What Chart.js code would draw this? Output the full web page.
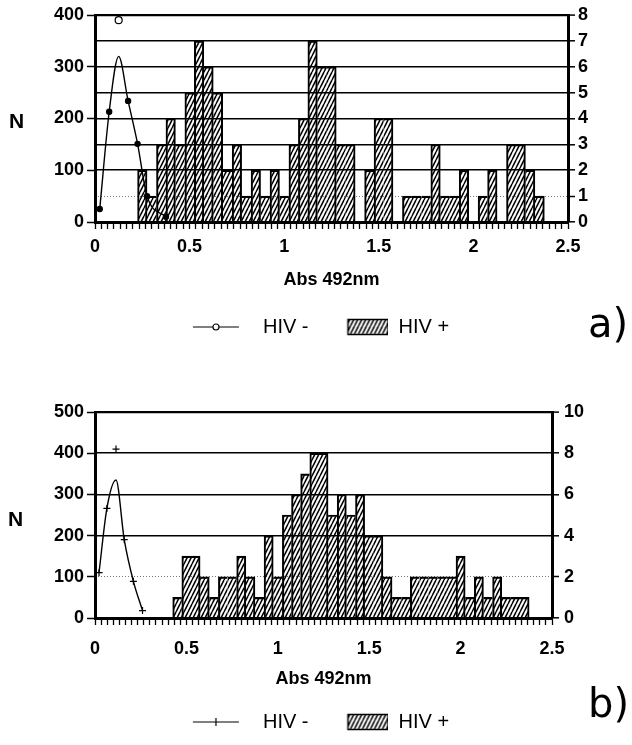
<!DOCTYPE html>
<html><head><meta charset="utf-8">
<script src="https://cdn.jsdelivr.net/npm/chart.js@4"></script>
<style>
html,body{margin:0;padding:0;background:#fff;width:632px;height:745px;overflow:hidden;position:relative;font-family:"Liberation Sans",Arial,sans-serif;}
canvas{position:absolute;left:0;}
#ca{top:0;}
#cb{top:380px;}
.n{position:absolute;font-weight:bold;font-size:21px;color:#000;}
.tag{position:absolute;font-family:"DejaVu Sans",sans-serif;font-size:40px;color:#000;}
</style></head><body>
<canvas id="ca" width="632" height="347"></canvas>
<canvas id="cb" width="632" height="365"></canvas>
<div class="n" style="left:9px;top:109px">N</div>
<div class="n" style="left:8px;top:507px">N</div>
<div class="tag" style="left:588px;top:300px">a)</div>
<div class="tag" style="left:588px;top:680px">b)</div>
<script>
// ---------- Panel a data ----------
const binsA = [0.25,0.30,0.35,0.40,0.45,0.50,0.55,0.60,0.65,0.70,0.75,0.80,0.85,0.90,0.95,1.00,1.05,1.10,1.15,1.20,1.25,1.30,1.35,1.40,1.45,1.50,1.55,1.60,1.65,1.70,1.75,1.80,1.85,1.90,1.95,2.00,2.05,2.10,2.15,2.20,2.25,2.30,2.35];
const hivPosA = [2,1,3,4,3,5,7,6,5,2,3,1,2,1,2,1,3,4,7,6,6,3,3,0,2,4,4,0,1,1,1,3,1,1,2,0,1,2,0,3,3,2,1];
const negXA   = [0.025,0.075,0.125,0.175,0.225,0.275,0.375];
const negObsA = [25,213,390,234,151,50,10];
const negFitA = [25,213,320,234,151,50,10];

// ---------- Panel b data ----------
const binsB = [0.45,0.50,0.55,0.60,0.65,0.70,0.75,0.80,0.85,0.90,0.95,1.00,1.05,1.10,1.15,1.20,1.25,1.30,1.35,1.40,1.45,1.50,1.55,1.60,1.65,1.70,1.75,1.80,1.85,1.90,1.95,2.00,2.05,2.10,2.15,2.20,2.25,2.30,2.35];
const hivPosB = [1,3,3,2,1,2,2,3,2,1,4,2,5,6,7,8,8,5,6,5,6,4,4,2,1,1,2,2,2,2,2,3,1,2,1,2,1,1,1];
const negXB   = [0.022,0.065,0.115,0.16,0.21,0.26];
const negObsB = [110,266,410,190,89,18];
const negFitB = [110,266,335,190,89,18];

const xLabels = ['0','0.5','1','1.5','2','2.5'];
const legendLabels = ['HIV -','HIV +'];
const xTitle = 'Abs 492nm';

const FONT = '"Liberation Sans", Arial, sans-serif';
Chart.defaults.font.family = FONT;
Chart.defaults.color = '#000';

function hatchPattern(ctx){
  const c = document.createElement('canvas'); c.width = 4; c.height = 8;
  const g = c.getContext('2d');
  g.strokeStyle = '#000'; g.lineWidth = 1.5;
  for (const dx of [-4,0,4]) { g.beginPath(); g.moveTo(dx,8); g.lineTo(dx+4,0); g.stroke(); }
  return ctx.createPattern(c,'repeat');
}
function negIcon(kind){
  const c = document.createElement('canvas'); c.width = 70; c.height = 14;
  const g = c.getContext('2d');
  g.strokeStyle = '#000'; g.lineWidth = 1.2;
  g.beginPath(); g.moveTo(10,7); g.lineTo(56,7); g.stroke();
  if (kind === 'circle') { g.beginPath(); g.arc(33,7,3,0,Math.PI*2); g.fillStyle='#fff'; g.fill(); g.stroke(); }
  else { g.beginPath(); g.moveTo(33,3); g.lineTo(33,11); g.stroke(); }
  return c;
}
function posIcon(){
  const c = document.createElement('canvas'); c.width = 70; c.height = 18;
  const g = c.getContext('2d');
  g.fillStyle = hatchPattern(g);
  g.fillRect(29,1,41,16);
  g.strokeStyle = '#000'; g.lineWidth = 1.5; g.strokeRect(29.5,1.5,40,15);
  return c;
}
const pts = (xs, ys) => xs.map((x,i) => ({x, y: ys[i]}));

function makeChart(id, cfg){
  const el = document.getElementById(id);
  const ctx = el.getContext('2d');
  const pattern = hatchPattern(ctx);
  const tickFont = {family: FONT, size: 18, weight: 'bold'};
  const edge = c => {
    const i = c.dataIndex, v = cfg.pos[i];
    const p = i > 0 ? cfg.pos[i-1] : 0, n = i < cfg.pos.length-1 ? cfg.pos[i+1] : 0;
    return { top: v > 0 ? 1.5 : 0, left: p < v ? 1.4 : 0, right: n < v ? 1.4 : 0, bottom: 0 };
  };
  return new Chart(ctx, {
    type: 'bar',
    data: {
      datasets: [
        { type:'line', label: legendLabels[0], data: pts(cfg.negX, cfg.negFit), yAxisID:'y', xAxisID:'x',
          borderColor:'#000', borderWidth:1.4, pointRadius:0, cubicInterpolationMode:'monotone', fill:false },
        { type:'line', label: legendLabels[0]+' obs', data: pts(cfg.negX, cfg.negObs), yAxisID:'y', xAxisID:'x',
          showLine:false, pointStyle: cfg.marker,
          pointRadius: c => cfg.marker==='circle' ? (cfg.negObs[c.dataIndex]!==cfg.negFit[c.dataIndex] ? 3.5 : 2.6) : 3.5,
          pointBackgroundColor: c => cfg.negObs[c.dataIndex]!==cfg.negFit[c.dataIndex] ? '#fff' : '#000',
          pointBorderColor:'#000', pointBorderWidth:1.2 },
        { type:'bar', label: legendLabels[1], data: pts(cfg.bins, cfg.pos), yAxisID:'y1', xAxisID:'x',
          backgroundColor: pattern, borderColor:'#000', borderWidth: edge, borderSkipped:false,
          barThickness:'flex', barPercentage:1, categoryPercentage:1 }
      ]
    },
    options: {
      responsive:false, animation:false, devicePixelRatio:1,
      layout:{ padding:{ top: cfg.padTop, bottom: cfg.padBottom, left:0, right:0 } },
      plugins:{
        tooltip:{enabled:false},
        legend:{ position:'bottom', align:'center',
          labels:{ usePointStyle:true, pointStyleWidth:70, boxHeight:18, padding:10, color:'#000',
            font:{family: FONT, size:20},
            generateLabels: () => [
              {text: legendLabels[0], pointStyle: negIcon(cfg.marker), fillStyle:'#fff', strokeStyle:'#000', lineWidth:0, hidden:false, datasetIndex:0, fontColor:'#000'},
              {text: legendLabels[1], pointStyle: posIcon(), fillStyle:'#fff', strokeStyle:'#000', lineWidth:0, hidden:false, datasetIndex:2, fontColor:'#000'}
            ] } }
      },
      scales:{
        x:{ type:'linear', min:0, max:2.5, offset:false,
          grid:{ offset:false, drawOnChartArea:false, drawTicks:true, tickLength:7, tickWidth:1.3, tickColor:'#000' },
          border:{ display:true, color:'#000', width:3 },
          ticks:{ stepSize:1/30, autoSkip:false, maxRotation:0, minRotation:0, padding:cfg.xPad, font:tickFont, color:'#000',
            callback: v => { const k = Math.round(v*30); return k % 15 === 0 ? xLabels[k/15] : ''; } },
          title:{ display:true, text:xTitle, color:'#000', font:{family:FONT, size:18, weight:'bold'}, padding:{top:0, bottom:cfg.titlePad} },
          afterFit: s => { s.height = cfg.xHeight; } },
        y:{ type:'linear', position:'left', min:0, max:cfg.leftMax,
          grid:{ drawOnChartArea:false, tickLength:8, tickWidth:1.5, tickColor:'#000' },
          border:{ display:true, color:'#000', width:3 },
          ticks:{ stepSize:100, padding:3, font:tickFont, color:'#000' },
          afterFit: s => { s.width = 95; } },
        y1:{ type:'linear', position:'right', min:0, max:cfg.rightMax,
          grid:{ drawOnChartArea:true, tickLength:7, tickWidth:1.5, tickColor:'#000',
            color: c => c.tick && c.tick.value === cfg.dotted ? '#777' : '#000',
            lineWidth: c => c.tick && c.tick.value === cfg.dotted ? 1 : (c.tick && c.tick.value === cfg.rightMax ? 2.2 : 1.6) },
          border:{ display:true, color:'#000', width:3,
            dash: c => (c.tick && c.tick.value === cfg.dotted) ? [1,2] : [] },
          ticks:{ stepSize:cfg.rightStep, padding:cfg.rPad, font:tickFont, color:'#000' },
          afterFit: s => { s.width = cfg.rightWidth; } }
      }
    }
  });
}

makeChart('ca', { bins: binsA, pos: hivPosA, negX: negXA, negObs: negObsA, negFit: negFitA, marker:'circle',
  leftMax:400, rightMax:8, rightStep:1, dotted:1, padTop:15, padBottom:0, xHeight:85, xPad:7, titlePad:16,
  rightWidth:64, rPad:3 });
makeChart('cb', { bins: binsB, pos: hivPosB, negX: negXB, negObs: negObsB, negFit: negFitB, marker:'cross',
  leftMax:500, rightMax:10, rightStep:2, dotted:2, padTop:32, padBottom:3, xHeight:84, xPad:13, titlePad:12,
  rightWidth:80, rPad:5 });
</script>
</body></html>
